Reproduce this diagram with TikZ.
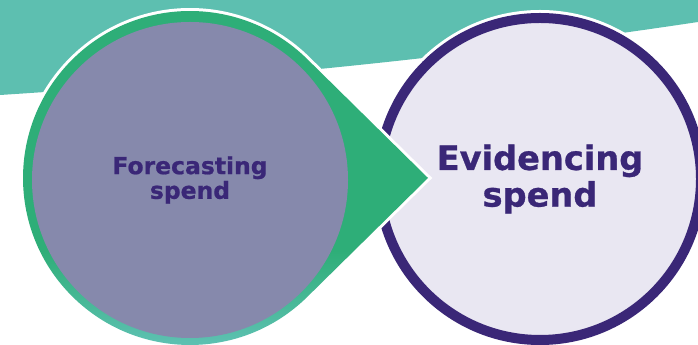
\documentclass[tikz,border=0pt]{standalone}
\usepackage{fontspec}
\setmainfont{DejaVu Sans}[BoldFeatures={FakeBold=0.8}]
\usepackage{tikz}

\definecolor{bandteal}{HTML}{5DBFB0}
\definecolor{arrowgreen}{HTML}{2EAE78}
\definecolor{fadeteal}{HTML}{66C4BC}
\definecolor{greypurple}{HTML}{8689AC}
\definecolor{lavender}{HTML}{E9E7F2}
\definecolor{deeppurple}{HTML}{3A2777}
\pgfdeclareverticalshading{greenfade}{100bp}{color(0bp)=(fadeteal); color(25bp)=(fadeteal); color(40bp)=(arrowgreen); color(100bp)=(arrowgreen)}

\begin{document}
\begin{tikzpicture}[x=0.75pt,y=0.75pt,
	stage/.style={circle,inner sep=0pt,align=center,text=deeppurple},
	halo/.style={preaction={draw=white,line width=#1}}]
		\useasboundingbox (0,0) rectangle (698,345);
		\clip (0,0) rectangle (698,345);
		%
		% teal band at the top
		\fill[bandteal] (0,345) -- (698,345) -- (698,323)
			.. controls (465,288) and (233,265) .. (0,250) -- cycle;
		%
		\coordinate (fcc) at (190,167);
		\coordinate (tip) at (428,167);
		%
		\node (ev) [stage,halo=12pt,draw=deeppurple,line width=7.5pt,fill=lavender,
			minimum size=241.5pt,font=\bfseries\fontsize{25.2}{27.5}\selectfont]
			at (540,166) {Evidencing\\spend};
		%
		% green drop pointing right
		\path[shade,shading=greenfade,halo=4.5pt]
			(tip) -- ([shift={(45.4:167)}]fcc) arc[start angle=45.4,end angle=314.6,radius=167] -- cycle;
		%
		\node (fc) [stage,fill=greypurple,minimum size=237pt,
			font=\bfseries\fontsize{17.6}{18.5}\selectfont]
			at ([yshift=-1.5]fcc) {Forecasting\\spend};
\end{tikzpicture}
\end{document}
